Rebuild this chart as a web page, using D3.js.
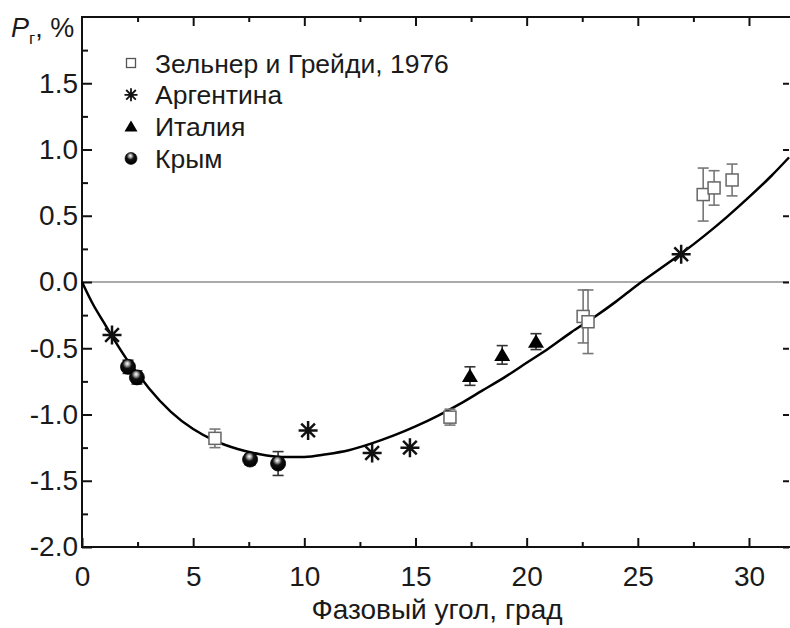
<!DOCTYPE html>
<html>
<head>
<meta charset="utf-8">
<script src="https://cdn.jsdelivr.net/npm/d3@7"></script>
<style>
  body { margin: 0; background: #fff; }
  text { font-family: "Liberation Sans", Arial, sans-serif; fill: #1a1a1a; }
</style>
</head>
<body>
<div id="chart"></div>
<script>
// Зельнер и Грейди, 1976 (open squares, error bars)
var zelnerX = [5.98, 16.55, 22.54, 22.76, 27.94, 28.43, 29.24];
var zelnerY = [-1.18, -1.02, -0.26, -0.30, 0.66, 0.71, 0.77];
var zelnerErr = [0.07, 0.06, 0.20, 0.24, 0.20, 0.13, 0.12];

// Аргентина (asterisks)
var argX = [1.35, 10.17, 13.05, 14.75, 26.95];
var argY = [-0.40, -1.12, -1.29, -1.25, 0.21];

// Италия (filled triangles)
var italyX = [17.45, 18.9, 20.42];
var italyY = [-0.71, -0.55, -0.45];
var italyErr = [0.07, 0.07, 0.06];

// Крым (shaded spheres)
var crimeaX = [2.07, 2.47, 7.56, 8.82];
var crimeaY = [-0.64, -0.72, -1.34, -1.37];
var crimeaErr = [0.05, 0.05, 0.04, 0.09];

// fitted curve
var curveX = [0, 0.5, 1, 1.5, 2, 2.5, 3, 4, 5, 6, 7, 8, 9, 10, 11, 12, 13, 14, 15, 16, 17, 18, 19, 20, 21, 22, 23, 24, 25, 26, 27, 28, 29, 30, 31, 31.8];
var curveY = [0, -0.17, -0.31, -0.45, -0.58, -0.69, -0.80, -0.98, -1.11, -1.20, -1.26, -1.30, -1.32, -1.32, -1.30, -1.27, -1.22, -1.16, -1.09, -1.01, -0.92, -0.82, -0.72, -0.61, -0.50, -0.38, -0.27, -0.15, -0.02, 0.10, 0.22, 0.35, 0.49, 0.64, 0.80, 0.94];

var xMajor = [0, 5, 10, 15, 20, 25, 30];
var xMinor = [2.5, 7.5, 12.5, 17.5, 22.5, 27.5];
var yMajor = [-2.0, -1.5, -1.0, -0.5, 0.0, 0.5, 1.0, 1.5];
var yMinor = [-1.75, -1.25, -0.75, -0.25, 0.25, 0.75, 1.25, 1.75];

var legendNames = ["Зельнер и Грейди, 1976", "Аргентина", "Италия", "Крым"];

var W = 790, H = 628;
var padL = 82, padR = 789, padT = 17, padB = 547;

var svg = d3.select("#chart").append("svg").attr("width", W).attr("height", H);

var x = d3.scaleLinear().domain([0, 31.8]).range([padL, padR]);
var y = d3.scaleLinear().domain([-2, 2]).range([padB, padT]);

var defs = svg.append("defs");
var grad = defs.append("radialGradient").attr("id", "ball")
    .attr("cx", "45%").attr("cy", "35%").attr("r", "60%")
    .attr("fx", "45%").attr("fy", "28%");
grad.append("stop").attr("offset", "0%").attr("stop-color", "#fff");
grad.append("stop").attr("offset", "22%").attr("stop-color", "#aaa");
grad.append("stop").attr("offset", "50%").attr("stop-color", "#111");
grad.append("stop").attr("offset", "100%").attr("stop-color", "#000");

// zero line
svg.append("line")
    .attr("x1", x(0)).attr("x2", padR)
    .attr("y1", y(0)).attr("y2", y(0))
    .attr("stroke", "#aaa").attr("stroke-width", 2);

// axes: inward ticks on all four sides
function styleAxis(g) {
    g.select(".domain").remove();
    g.selectAll(".tick line").attr("stroke", "#111").attr("stroke-width", 2);
    g.selectAll(".tick text").style("font-size", "28px");
}
var fmtY = function (d) { return d3.format(".1f")(d).replace("−", "-"); };

svg.append("g").attr("transform", "translate(0," + padB + ")")
    .call(d3.axisBottom(x).tickValues(xMajor).tickSize(-9).tickPadding(19).tickFormat(d3.format("d")))
    .call(styleAxis);
svg.append("g").attr("transform", "translate(0," + padB + ")")
    .call(d3.axisBottom(x).tickValues(xMinor).tickSize(-5).tickFormat(""))
    .call(styleAxis);
svg.append("g").attr("transform", "translate(0," + padT + ")")
    .call(d3.axisBottom(x).tickValues(xMajor.filter(function (d) { return d > 0; })).tickSize(9).tickFormat(""))
    .call(styleAxis);
svg.append("g").attr("transform", "translate(0," + padT + ")")
    .call(d3.axisBottom(x).tickValues(xMinor).tickSize(5).tickFormat(""))
    .call(styleAxis);

svg.append("g").attr("transform", "translate(" + padL + ",0)")
    .call(d3.axisLeft(y).tickValues(yMajor).tickSize(-10).tickPadding(4).tickFormat(fmtY))
    .call(styleAxis);
svg.append("g").attr("transform", "translate(" + padL + ",0)")
    .call(d3.axisLeft(y).tickValues(yMinor).tickSize(-6).tickFormat(""))
    .call(styleAxis);
svg.append("g").attr("transform", "translate(" + padR + ",0)")
    .call(d3.axisLeft(y).tickValues(yMajor).tickSize(6).tickFormat(""))
    .call(styleAxis);

// frame
svg.append("rect")
    .attr("x", padL).attr("y", padT)
    .attr("width", padR - padL + 4).attr("height", padB - padT)
    .attr("fill", "none").attr("stroke", "#111").attr("stroke-width", 2);

// curve
var curveData = curveX.map(function (d, i) { return [d, curveY[i]]; });
svg.append("path")
    .datum(curveData)
    .attr("fill", "none").attr("stroke", "#000").attr("stroke-width", 2.5)
    .attr("d", d3.line().x(function (d) { return x(d[0]); }).y(function (d) { return y(d[1]); }).curve(d3.curveMonotoneX));

// error bars
function errorBars(xs, ys, es, color) {
    var g = svg.append("g").attr("stroke", color).attr("stroke-width", 1.6).attr("fill", "none");
    var data = xs.map(function (d, i) { return { x: d, y: ys[i], e: es[i] }; });
    g.selectAll(".v").data(data).enter().append("line")
        .attr("x1", function (d) { return x(d.x); }).attr("x2", function (d) { return x(d.x); })
        .attr("y1", function (d) { return y(d.y + d.e); }).attr("y2", function (d) { return y(d.y - d.e); });
    g.selectAll(".t").data(data).enter().append("line")
        .attr("x1", function (d) { return x(d.x) - 5.5; }).attr("x2", function (d) { return x(d.x) + 5.5; })
        .attr("y1", function (d) { return y(d.y + d.e); }).attr("y2", function (d) { return y(d.y + d.e); });
    g.selectAll(".b").data(data).enter().append("line")
        .attr("x1", function (d) { return x(d.x) - 5.5; }).attr("x2", function (d) { return x(d.x) + 5.5; })
        .attr("y1", function (d) { return y(d.y - d.e); }).attr("y2", function (d) { return y(d.y - d.e); });
}

errorBars(zelnerX, zelnerY, zelnerErr, "#777");
errorBars(italyX, italyY, italyErr, "#333");
errorBars(crimeaX, crimeaY, crimeaErr, "#333");

// symbol painters
function square(g) {
    g.append("rect").attr("x", -6).attr("y", -6).attr("width", 12).attr("height", 12)
        .attr("fill", "#fff").attr("stroke", "#666").attr("stroke-width", 1.5);
}
function asterisk(g) {
    var r = 9.5, d = r * 0.72;
    var p = "M0," + (-r) + "L0," + r +
        "M" + (-r) + ",0L" + r + ",0" +
        "M" + (-d) + "," + (-d) + "L" + d + "," + d +
        "M" + (-d) + "," + d + "L" + d + "," + (-d);
    g.append("path").attr("d", p).attr("stroke", "#111").attr("stroke-width", 2.5).attr("fill", "none");
}
function triangle(g) {
    g.append("path").attr("d", "M0,-7.5L8,6L-8,6Z").attr("fill", "#000");
}
function ball(g) {
    g.append("circle").attr("r", 7.5).attr("fill", "url(#ball)").attr("stroke", "#000").attr("stroke-width", 0.8);
}

function plotSeries(xs, ys, painter) {
    xs.forEach(function (d, i) {
        var g = svg.append("g").attr("transform", "translate(" + x(d) + "," + y(ys[i]) + ")");
        painter(g);
    });
}

plotSeries(zelnerX, zelnerY, square);
plotSeries(argX, argY, asterisk);
plotSeries(italyX, italyY, triangle);
plotSeries(crimeaX, crimeaY, ball);

// legend
var legend = svg.append("g");
legendNames.forEach(function (name, i) {
    var yy = 63 + i * 31.8;
    var g = legend.append("g").attr("transform", "translate(131," + yy + ")");
    if (i === 0) {
        g.append("rect").attr("x", -4.5).attr("y", -4.5).attr("width", 9).attr("height", 9)
            .attr("fill", "#fff").attr("stroke", "#555").attr("stroke-width", 1.3);
    } else if (i === 1) {
        g.append("path").attr("d", "M0,-6.5L0,6.5M-4.8,-4.8L4.8,4.8M-4.8,4.8L4.8,-4.8M-6.5,0L6.5,0")
            .attr("stroke", "#111").attr("stroke-width", 1.8);
    } else if (i === 2) {
        g.append("path").attr("d", "M0,-6L6.5,5L-6.5,5Z").attr("fill", "#000");
    } else {
        g.append("circle").attr("r", 6).attr("fill", "url(#ball)").attr("stroke", "#000").attr("stroke-width", 0.6);
    }
    legend.append("text").attr("x", 155).attr("y", yy).attr("dy", "0.36em")
        .style("font-size", "26.5px").text(name);
});

// axis titles
var yl = svg.append("text").attr("x", 11).attr("y", 37).style("font-size", "27px");
yl.append("tspan").style("font-style", "italic").text("P");
yl.append("tspan").attr("dy", 7).style("font-size", "17px").text("г");
yl.append("tspan").attr("dy", -7).text(", %");

svg.append("text").attr("x", 437).attr("y", 619)
    .attr("text-anchor", "middle").style("font-size", "28px").text("Фазовый угол, град");
</script>
</body>
</html>
